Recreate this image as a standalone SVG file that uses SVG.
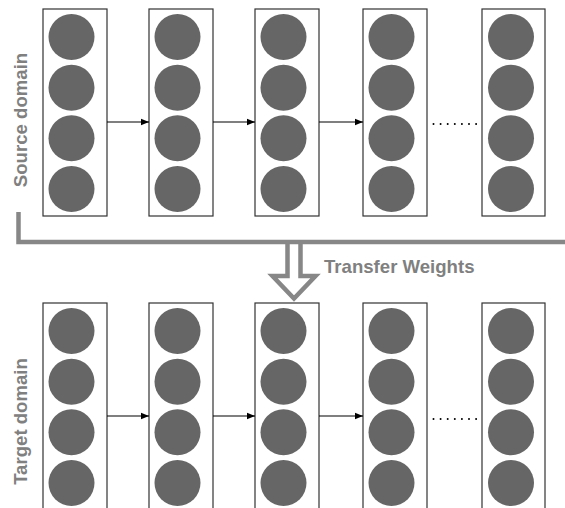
<svg xmlns="http://www.w3.org/2000/svg" width="565" height="508" viewBox="0 0 565 508">
  <defs>
    <style>
      .layer { fill: #ffffff; stroke: #333333; stroke-width: 1.2; }
      .unit { fill: #666666; }
      .link { stroke: #000000; stroke-width: 1.2; fill: none; }
      .dots { stroke: #000000; stroke-width: 2; stroke-linecap: round; stroke-dasharray: 0 7.1; fill: none; }
      .label { font-family: "Liberation Sans", Arial, Helvetica, sans-serif; font-weight: bold; font-size: 18.6px; fill: #808080; }
      .bracket { fill: none; stroke: #878787; stroke-width: 4.5; }
    </style>
    <marker id="head" viewBox="0 0 8 8" refX="8" refY="4" markerWidth="8" markerHeight="8" markerUnits="userSpaceOnUse" orient="auto">
      <path d="M0 0.8 L8 4 L0 7.2 Z" fill="#000000"/>
    </marker>
    <g id="col">
      <circle class="unit" cx="30.5" cy="28" r="23"/>
      <circle class="unit" cx="30.5" cy="78.7" r="23"/>
      <circle class="unit" cx="30.5" cy="129.3" r="23"/>
      <circle class="unit" cx="30.5" cy="180" r="23"/>
    </g>
  </defs>

  <rect width="565" height="508" fill="#ffffff"/>

  <!-- source network layers -->
  <g id="src-1"><rect class="layer" x="43" y="9" width="64" height="207"/><use href="#col" x="41" y="9"/></g>
  <g id="src-2"><rect class="layer" x="149" y="9" width="64" height="207"/><use href="#col" x="147" y="9"/></g>
  <g id="src-3"><rect class="layer" x="255" y="9" width="64" height="207"/><use href="#col" x="253" y="9"/></g>
  <g id="src-4"><rect class="layer" x="363" y="9" width="64" height="207"/><use href="#col" x="361" y="9"/></g>
  <g id="src-5"><rect class="layer" x="482" y="9" width="63" height="207"/><use href="#col" x="480.5" y="9"/></g>

  <!-- target network layers -->
  <g id="tgt-1"><rect class="layer" x="43" y="303" width="64" height="210"/><use href="#col" x="41" y="303"/></g>
  <g id="tgt-2"><rect class="layer" x="149" y="303" width="64" height="210"/><use href="#col" x="147" y="303"/></g>
  <g id="tgt-3"><rect class="layer" x="255" y="303" width="64" height="210"/><use href="#col" x="253" y="303"/></g>
  <g id="tgt-4"><rect class="layer" x="363" y="303" width="64" height="210"/><use href="#col" x="361" y="303"/></g>
  <g id="tgt-5"><rect class="layer" x="482" y="303" width="63" height="210"/><use href="#col" x="480.5" y="303"/></g>

  <!-- connectors between layers -->
  <g id="connectors">
    <line class="link" x1="107" y1="122" x2="149" y2="122" marker-end="url(#head)"/>
    <line class="link" x1="213" y1="122" x2="255" y2="122" marker-end="url(#head)"/>
    <line class="link" x1="319" y1="122" x2="363" y2="122" marker-end="url(#head)"/>
    <line class="dots" x1="433.5" y1="124" x2="476.2" y2="124"/>

    <line class="link" x1="107" y1="416" x2="149" y2="416" marker-end="url(#head)"/>
    <line class="link" x1="213" y1="416" x2="255" y2="416" marker-end="url(#head)"/>
    <line class="link" x1="319" y1="416" x2="363" y2="416" marker-end="url(#head)"/>
    <line class="dots" x1="433.5" y1="419" x2="476.2" y2="419"/>
  </g>

  <!-- weight transfer: hollow arrow hanging from the bracket -->
  <g id="transfer">
    <path class="bracket" d="M287.5 242 V276 H272.5 L294 298.5 L315.5 276 H300.5 V242" fill="#ffffff" style="fill:#ffffff"/>
    <path class="bracket" d="M18.5 212 V242 H567"/>
    <text class="label" x="324" y="273">Transfer Weights</text>
  </g>

  <!-- side labels -->
  <text class="label" transform="translate(27 120) rotate(-90)" text-anchor="middle">Source domain</text>
  <text class="label" transform="translate(27 421.5) rotate(-90)" text-anchor="middle">Target domain</text>
</svg>
